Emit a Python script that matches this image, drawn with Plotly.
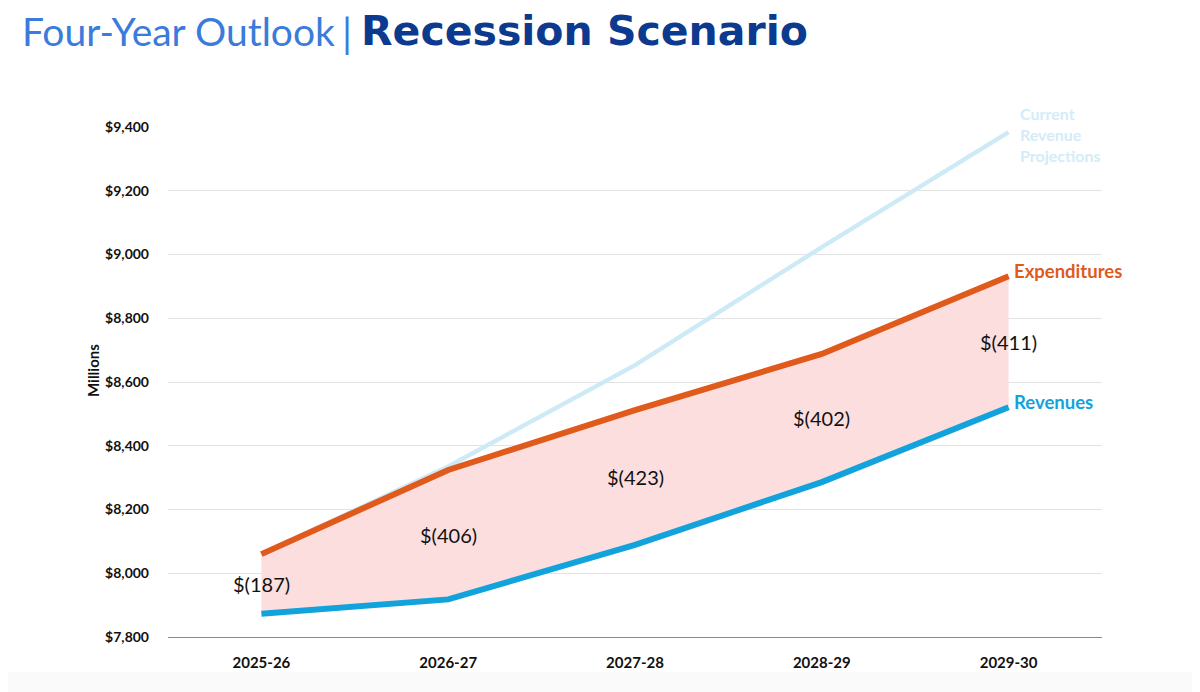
import plotly.graph_objects as go

years = ["2025-26", "2026-27", "2027-28", "2028-29", "2029-30"]
expenditures = [8060, 8324, 8512, 8688, 8932]
revenues = [7873, 7918, 8089, 8286, 8521]
current_projections = [8060, 8335, 8653, 9023, 9384]
deficits = [187, 406, 423, 402, 411]
y_ticks = [7800, 8000, 8200, 8400, 8600, 8800, 9000, 9200, 9400]

ORANGE = "#E05A1C"
BLUE = "#12A3DD"
LIGHT = "#CFEAF7"

x = list(range(len(years)))
fig = go.Figure()

fig.add_trace(go.Scatter(x=x, y=current_projections, mode="lines",
                         line=dict(color=LIGHT, width=4.5), hoverinfo="skip"))
fig.add_trace(go.Scatter(x=x, y=revenues, mode="lines",
                         line=dict(color="rgba(0,0,0,0)", width=0), hoverinfo="skip"))
fig.add_trace(go.Scatter(x=x, y=expenditures, mode="lines", fill="tonexty",
                         fillcolor="#FDDEDE",
                         line=dict(color="rgba(0,0,0,0)", width=0), hoverinfo="skip"))
fig.add_trace(go.Scatter(x=x, y=expenditures, mode="lines",
                         line=dict(color=ORANGE, width=6)))
fig.add_trace(go.Scatter(x=x, y=revenues, mode="lines",
                         line=dict(color=BLUE, width=6)))

for i, d in enumerate(deficits):
    mid = (expenditures[i] + revenues[i]) / 2
    fig.add_annotation(x=i, y=mid, text=f"$({d})", showarrow=False,
                       font=dict(family="Lato", size=20, color="#111111"),
                       xanchor="center", yanchor="middle")

last = len(years) - 1
fig.add_annotation(x=last, y=expenditures[-1], text="<b>Expenditures</b>", showarrow=False,
                   xanchor="left", yanchor="middle", xshift=3, yshift=5,
                   font=dict(family="Lato", size=18.5, color=ORANGE))
fig.add_annotation(x=last, y=revenues[-1], text="<b>Revenues</b>", showarrow=False,
                   xanchor="left", yanchor="middle", xshift=3, yshift=5,
                   font=dict(family="Lato", size=18.5, color=BLUE))
fig.add_annotation(x=last, y=current_projections[-1],
                   text="<b>Current<br>Revenue<br>Projections</b>", showarrow=False,
                   xanchor="left", yanchor="middle", align="left", xshift=9, yshift=-2,
                   font=dict(family="Lato", size=16, color="#D3ECF8"))

fig.add_annotation(xref="paper", yref="paper", x=0, y=0.5, textangle=-90, xshift=-86, yshift=11,
                   text="<b>Millions</b>", showarrow=False,
                   font=dict(family="Lato", size=15, color="#111111"))

# Title
fig.add_annotation(xref="paper", yref="paper", x=0, y=1, xanchor="left", yanchor="middle",
                   xshift=-147, yshift=96, borderpad=0,
                   text="Four-Year Outlook", showarrow=False,
                   font=dict(family="Lato", size=39, color="#3A7BDB"))
fig.add_annotation(xref="paper", yref="paper", x=0, y=1, xanchor="left", yanchor="middle",
                   xshift=-168 + 341, yshift=94, borderpad=0,
                   text="|", showarrow=False,
                   font=dict(family="Lato", size=40, color="#3A7BDB"))
fig.add_annotation(xref="paper", yref="paper", x=0, y=1, xanchor="left", yanchor="middle",
                   xshift=-168 + 360, yshift=96, borderpad=0,
                   text="<b>Recession Scenario</b>", showarrow=False,
                   font=dict(family="DejaVu Sans", size=41, color="#0B3A8F"))

fig.add_shape(type="rect", xref="paper", yref="paper", x0=-0.2, x1=1.2, y0=-0.069, y1=-0.2,
              fillcolor="#FAFAFA", line=dict(width=0), layer="below")

fig.update_layout(
    width=1200, height=692,
    margin=dict(l=160, r=106, t=119, b=63),
    paper_bgcolor="white", plot_bgcolor="white",
    showlegend=False,
    xaxis=dict(tickmode="array", tickvals=x, ticktext=[f"<b>{y}</b>" for y in years],
               range=[-0.5, 4.5], showgrid=False, zeroline=False,
               showline=True, linecolor="#8A8A8A", linewidth=1.2,
               tickfont=dict(family="Lato", size=15, color="#111111"), ticks="", ticklabelstandoff=12),
    yaxis=dict(range=[7800, 9400], tickmode="array", tickvals=y_ticks,
               ticktext=[f"<b>${v:,}</b>" for v in y_ticks],
               showgrid=True, gridcolor="#E3E3E3", gridwidth=1, zeroline=False,
               tickfont=dict(family="Lato", size=14, color="#111111"), ticks="", ticklabelstandoff=18),
)

fig.write_html("out.html")
